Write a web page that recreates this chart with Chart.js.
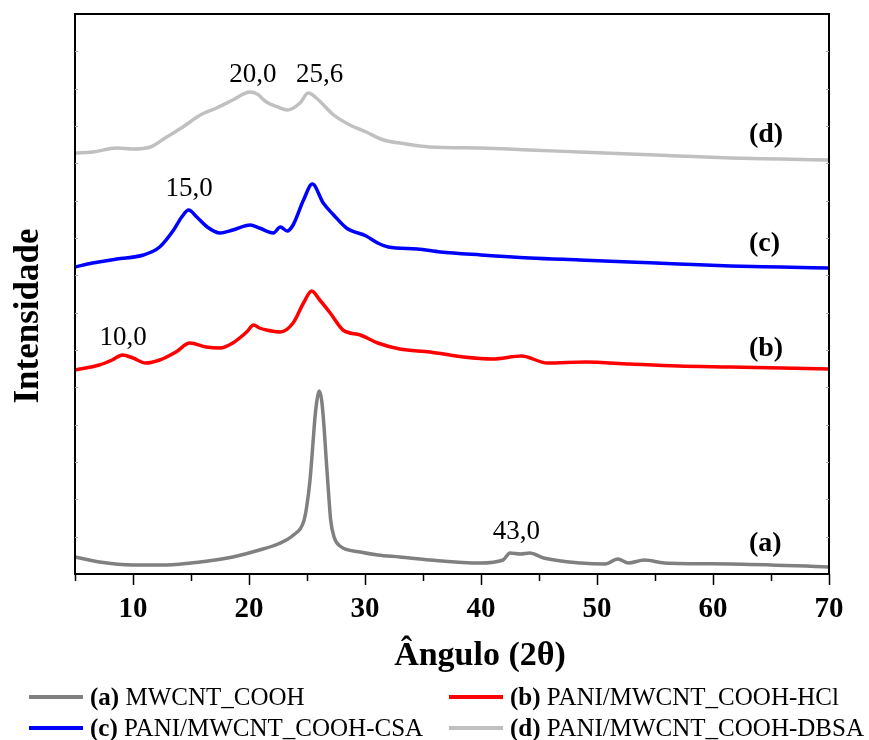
<!DOCTYPE html>
<html>
<head>
<meta charset="utf-8">
<script src="https://cdn.jsdelivr.net/npm/chart.js@4.4.1/dist/chart.umd.min.js"></script>
<style>
  html, body { margin: 0; padding: 0; background: #fff; }
  #wrap { width: 869px; height: 740px; }
</style>
</head>
<body>
<div id="wrap"><canvas id="xrd" width="869" height="740"></canvas></div>
<script>
// --- Data (intensity in arbitrary units) ---
const xTicks = [10, 20, 30, 40, 50, 60, 70];
const xMinorTicks = [5, 15, 25, 35, 45, 55, 65];

// (a) MWCNT_COOH
const aAngle = [5.0, 7.1, 10.0, 12.9, 15.8, 18.6, 20.9, 22.5, 23.83, 24.7, 24.97, 25.26, 25.49, 25.69, 25.89, 26.06, 26.26, 26.47, 26.64, 26.84, 27.04, 27.33, 27.84, 29.6, 31.1, 33.0, 35.6, 39.9, 41.9, 42.5, 43.4, 44.2, 45.4, 48.6, 50.7, 51.8, 52.7, 54.1, 55.8, 61.5, 70.0];
const aInt   = [17, 12, 9, 9, 12, 17, 24, 30, 39, 52, 67, 94, 127, 157, 176, 183, 174, 147, 117, 84, 54, 37, 28, 22, 19, 17, 14, 11, 14, 21, 20, 21, 16, 11, 10, 15, 11, 14, 11, 10, 7];

// (b) PANI/MWCNT_COOH-HCl
const bAngle = [5.0, 7.1, 8.2, 9.1, 10.0, 11.1, 12.3, 13.7, 14.9, 16.3, 17.5, 18.6, 19.8, 20.4, 20.9, 21.5, 22.7, 23.8, 24.7, 25.4, 26.1, 27.0, 28.1, 29.6, 31.1, 33.0, 35.6, 38.5, 41.0, 43.5, 45.7, 49.0, 52.8, 57.0, 61.5, 70.0];
const bInt   = [204, 209, 214, 219, 216, 211, 214, 222, 231, 227, 226, 231, 242, 249, 246, 244, 242, 251, 271, 283, 274, 261, 244, 239, 231, 225, 222, 217, 215, 218, 211, 212, 210, 208, 207, 205];

// (c) PANI/MWCNT_COOH-CSA
const cAngle = [5.0, 6.5, 8.6, 10.9, 12.3, 13.5, 14.2, 14.8, 15.5, 16.4, 17.5, 18.6, 20.1, 20.9, 22.1, 22.7, 23.3, 23.8, 24.7, 25.46, 26.4, 27.3, 28.4, 30.1, 31.1, 32.0, 34.5, 36.5, 40.0, 44.2, 48.5, 52.8, 57.0, 61.5, 65.8, 70.0];
const cInt   = [307, 311, 315, 319, 327, 344, 357, 364, 357, 347, 341, 344, 349, 346, 341, 347, 343, 349, 374, 390, 371, 359, 346, 338, 331, 327, 325, 322, 319, 316, 314, 312, 310, 308, 307, 306];

// (d) PANI/MWCNT_COOH-DBSA
const dAngle = [5.0, 6.5, 8.6, 10.0, 11.5, 12.9, 14.3, 15.8, 17.2, 18.6, 20.1, 20.7, 21.5, 22.5, 23.3, 24.4, 25.1, 25.8, 27.3, 28.7, 30.1, 31.6, 33.0, 35.6, 40.0, 44.2, 48.5, 52.8, 57.0, 61.5, 65.8, 70.0];
const dInt   = [421, 422, 426, 425, 427, 437, 447, 459, 466, 474, 482, 480, 472, 467, 464, 471, 481, 476, 459, 449, 442, 434, 431, 427, 426, 424, 422, 420, 418, 416, 415, 414];

// peak labels: text, angle (centre), intensity (baseline)
const peakText  = ['20,0', '25,6', '15,0', '10,0', '43,0'];
const peakAngle = [20.34, 26.08, 14.83, 9.14, 43.06];
const peakInt   = [492, 492, 378, 229, 35];

// curve tags at right side
const tagText  = ['(d)', '(c)', '(b)', '(a)'];
const tagAngle = [63.1, 63.1, 63.1, 63.1];
const tagInt   = [432, 323, 218, 23];

const seriesTag   = ['(a)', '(b)', '(c)', '(d)'];
const seriesName  = ['MWCNT_COOH', 'PANI/MWCNT_COOH-HCl', 'PANI/MWCNT_COOH-CSA', 'PANI/MWCNT_COOH-DBSA'];
const seriesColor = ['#808080', '#ff0000', '#0000ff', '#c0c0c0'];

const Y_MAX = 560;
const Y_STEPS = 15;

function toPoints(xs, ys) {
  return xs.map((x, i) => ({ x: x, y: ys[i] }));
}

const SERIF = '"Liberation Serif", "Times New Roman", serif';

// --- Decorations drawn with the chart's scales ---
const decor = {
  id: 'decor',
  afterDraw(chart) {
    const ctx = chart.ctx;
    const area = chart.chartArea;
    const xs = chart.scales.x;
    const ys = chart.scales.y;
    ctx.save();

    // frame
    ctx.strokeStyle = '#000';
    ctx.lineWidth = 2;
    ctx.strokeRect(area.left, area.top, area.right - area.left, area.bottom - area.top);

    // x ticks (outward)
    ctx.lineWidth = 1.5;
    ctx.beginPath();
    xTicks.forEach(v => {
      const px = Math.round(xs.getPixelForValue(v)) + 0.5;
      ctx.moveTo(px, area.bottom);
      ctx.lineTo(px, area.bottom + 11);
    });
    xMinorTicks.forEach(v => {
      const px = Math.round(xs.getPixelForValue(v)) + 0.5;
      ctx.moveTo(px, area.bottom);
      ctx.lineTo(px, area.bottom + 7);
    });
    ctx.stroke();

    // y ticks (small, inward, faint)
    ctx.lineWidth = 1;
    ctx.strokeStyle = '#aaa';
    ctx.beginPath();
    for (let i = 1; i < Y_STEPS; i++) {
      const py = Math.round(ys.getPixelForValue(i * Y_MAX / Y_STEPS)) + 0.5;
      ctx.moveTo(area.left, py);
      ctx.lineTo(area.left + 3, py);
      ctx.moveTo(area.right, py);
      ctx.lineTo(area.right - 3, py);
    }
    ctx.stroke();

    // x tick labels
    ctx.fillStyle = '#000';
    ctx.font = 'bold 29px ' + SERIF;
    ctx.textAlign = 'center';
    ctx.textBaseline = 'alphabetic';
    xTicks.forEach(v => {
      ctx.fillText(String(v), xs.getPixelForValue(v), area.bottom + 43);
    });

    // x title
    ctx.font = 'bold 34px ' + SERIF;
    ctx.fillText('Ângulo (2θ)', 480, 665);

    // y title
    ctx.save();
    ctx.translate(38, 316);
    ctx.rotate(-Math.PI / 2);
    ctx.font = 'bold 35px ' + SERIF;
    ctx.fillText('Intensidade', 0, 0);
    ctx.restore();

    // peak labels
    ctx.font = '27px ' + SERIF;
    peakText.forEach((t, i) => {
      ctx.fillText(t, xs.getPixelForValue(peakAngle[i]), ys.getPixelForValue(peakInt[i]));
    });

    // curve tags
    ctx.font = 'bold 28px ' + SERIF;
    ctx.textAlign = 'left';
    tagText.forEach((t, i) => {
      ctx.fillText(t, xs.getPixelForValue(tagAngle[i]), ys.getPixelForValue(tagInt[i]));
    });

    // legend (two columns)
    const legX = [29, 449];
    const legY = [697, 728];
    seriesName.forEach((name, i) => {
      const lx = legX[i % 2];
      const ly = legY[Math.floor(i / 2)];
      ctx.strokeStyle = seriesColor[i];
      ctx.lineWidth = 4;
      ctx.beginPath();
      ctx.moveTo(lx, ly);
      ctx.lineTo(lx + 54, ly);
      ctx.stroke();

      ctx.fillStyle = '#000';
      ctx.textAlign = 'left';
      ctx.font = 'bold 25px ' + SERIF;
      const tag = seriesTag[i];
      ctx.fillText(tag, lx + 61, ly + 8);
      const w = ctx.measureText(tag + ' ').width;
      ctx.font = '25px ' + SERIF;
      ctx.fillText(name, lx + 61 + w, ly + 8);
    });

    ctx.restore();
  }
};

// --- Build chart ---
const datasets = [
  { label: seriesName[0], data: toPoints(aAngle, aInt), borderColor: seriesColor[0] },
  { label: seriesName[1], data: toPoints(bAngle, bInt), borderColor: seriesColor[1] },
  { label: seriesName[2], data: toPoints(cAngle, cInt), borderColor: seriesColor[2] },
  { label: seriesName[3], data: toPoints(dAngle, dInt), borderColor: seriesColor[3] }
].map(ds => Object.assign(ds, {
  borderWidth: 3.5,
  pointRadius: 0,
  fill: false,
  cubicInterpolationMode: 'monotone'
}));

new Chart(document.getElementById('xrd').getContext('2d'), {
  type: 'line',
  data: { datasets: datasets },
  options: {
    responsive: false,
    animation: false,
    layout: { padding: { left: 75, right: 40, top: 14, bottom: 166 } },
    scales: {
      x: { type: 'linear', min: 5, max: 70, display: false },
      y: { type: 'linear', min: 0, max: Y_MAX, display: false }
    },
    plugins: {
      legend: { display: false },
      tooltip: { enabled: false }
    }
  },
  plugins: [decor]
});
</script>
</body>
</html>
